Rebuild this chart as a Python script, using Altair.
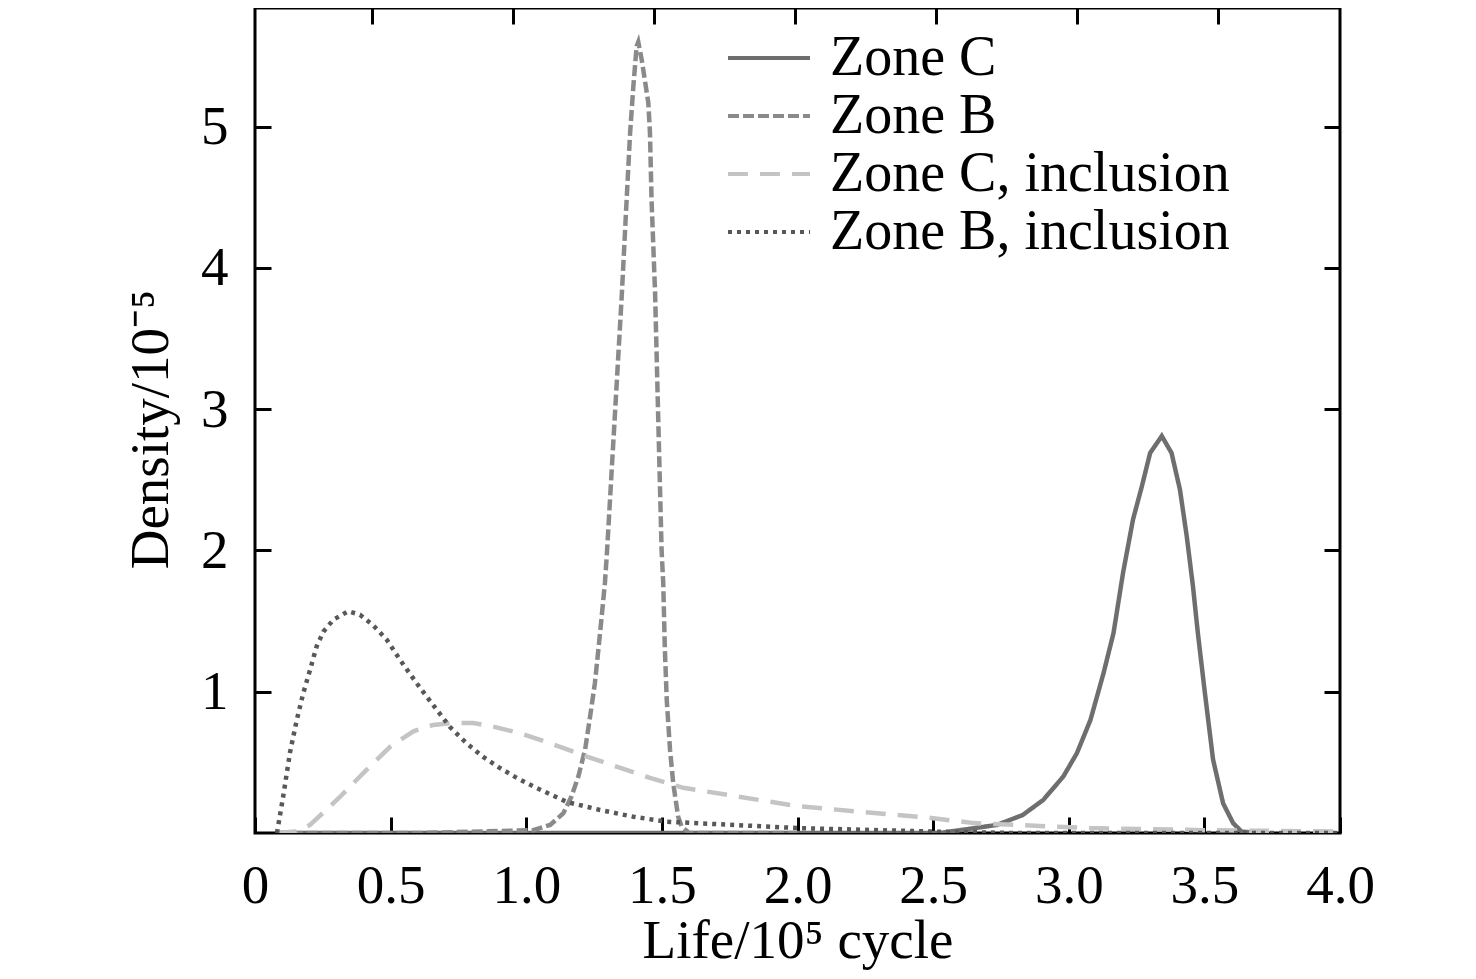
import altair as alt
import pandas as pd

# ---------------- data ----------------
series_names = ["Zone C", "Zone B", "Zone C, inclusion", "Zone B, inclusion"]

zone_c_x = [0.08, 1.0, 2.0, 2.525, 2.735, 2.83, 2.906, 2.98, 3.03, 3.08, 3.128, 3.165,
            3.2, 3.237, 3.269, 3.3, 3.343, 3.379, 3.41, 3.435, 3.458, 3.476, 3.502,
            3.532, 3.569, 3.606, 3.637, 3.7]
zone_c_y = [0.0, 0.0, 0.0, 0.0, 0.057, 0.127, 0.234, 0.40, 0.565, 0.80, 1.13, 1.415,
            1.84, 2.22, 2.45, 2.69, 2.81, 2.69, 2.43, 2.10, 1.745, 1.415, 0.99,
            0.52, 0.21, 0.07, 0.01, 0.0]

zone_b_x = [0.08, 0.6, 1.026, 1.088, 1.137, 1.167, 1.192, 1.217, 1.235, 1.253, 1.266,
            1.278, 1.29, 1.298, 1.325, 1.352, 1.37, 1.383, 1.395, 1.407, 1.413,
            1.426, 1.45, 1.456, 1.462, 1.475, 1.487, 1.499, 1.505, 1.511, 1.518,
            1.53, 1.542, 1.56, 1.573, 1.6, 2.0]
zone_b_y = [0.0, 0.0, 0.02, 0.057, 0.14, 0.26, 0.40, 0.59, 0.82, 1.06, 1.30,
            1.53, 1.77, 2.0, 2.9, 3.80, 4.48, 4.96, 5.29, 5.57, 5.60,
            5.47, 5.17, 4.96, 4.48, 3.82, 2.9, 2.0, 1.77, 1.30, 0.94,
            0.59, 0.35, 0.115, 0.045, 0.0, 0.0]

zone_c_inc_x = [0.08, 0.15, 0.203, 0.313, 0.41, 0.498, 0.584, 0.657, 0.731, 0.805, 0.878,
                0.977, 1.088, 1.21, 1.333, 1.456, 1.579, 2.0, 2.5, 2.65, 3.08, 3.5, 4.0]
zone_c_inc_y = [0.0, 0.01, 0.057, 0.255, 0.445, 0.61, 0.72, 0.765, 0.78, 0.778, 0.753,
                0.707, 0.635, 0.55, 0.47, 0.39, 0.32, 0.19, 0.105, 0.07, 0.035, 0.02, 0.01]

zone_b_inc_x = [0.081, 0.104, 0.129, 0.154, 0.178, 0.203, 0.227, 0.252, 0.289, 0.344,
                0.387, 0.436, 0.485, 0.535, 0.596, 0.657, 0.719, 0.78, 0.84, 0.903,
                0.965, 1.026, 1.149, 1.272, 1.395, 1.518, 2.0, 2.5, 2.8, 4.0]
zone_b_inc_y = [0.0, 0.26, 0.57, 0.80, 0.99, 1.155, 1.32, 1.425, 1.51, 1.57,
                1.545, 1.47, 1.37, 1.225, 1.06, 0.905, 0.75, 0.635, 0.54, 0.46,
                0.39, 0.33, 0.22, 0.163, 0.115, 0.08, 0.035, 0.01, 0.0, 0.0]

x_ticks = [0, 0.5, 1.0, 1.5, 2.0, 2.5, 3.0, 3.5, 4.0]
x_top_ticks = [0.431, 0.951, 1.471, 1.991, 2.510, 3.030, 3.550]
y_ticks = [1, 2, 3, 4, 5]

series_colors = ["#6e6e6e", "#8a8a8a", "#c4c4c4", "#585858"]
series_dashes = [[1, 0], [11, 4], [20, 12], [4, 5]]

frames = []
for name, xs, ys in [("Zone C", zone_c_x, zone_c_y),
                     ("Zone B", zone_b_x, zone_b_y),
                     ("Zone C, inclusion", zone_c_inc_x, zone_c_inc_y),
                     ("Zone B, inclusion", zone_b_inc_x, zone_b_inc_y)]:
    frames.append(pd.DataFrame({"series": name, "life": xs, "density": ys}))
df = pd.concat(frames, ignore_index=True)

# ---------------- chart ----------------
W, H = 1085, 825
FONT = "Liberation Serif"
FS = 55

xscale = alt.Scale(domain=[0, 4], nice=False, zero=False)
yscale = alt.Scale(domain=[0, 5.84], nice=False, zero=False)

legend = alt.Legend(
    orient="none", legendX=486, legendY=22, title=None,
    symbolType="M-2,0L2,0", symbolSize=1681, symbolStrokeWidth=4,
    labelFont=FONT, labelFontSize=56, labelColor="black", labelOffset=33,
    rowPadding=2, padding=0, labelLimit=0,
)

lines = alt.Chart(df).mark_line(strokeWidth=4.5, clip=True).encode(
    x=alt.X("life:Q", scale=xscale, axis=alt.Axis(
        orient="bottom", values=x_ticks, ticks=False, tickSize=0, domain=False, grid=False,
        labelExpr="datum.value == 0 ? '0' : format(datum.value, '.1f')",
        labelFont=FONT, labelFontSize=FS, labelColor="black", labelPadding=26,
        labelFlush=False, labelOverlap=False,
        title="Life/10\u2075 cycle", titleFont=FONT, titleFontSize=FS, titleFontWeight="normal",
        titleColor="black", titleBaseline="alphabetic", titleY=124)),
    y=alt.Y("density:Q", scale=yscale, axis=alt.Axis(
        orient="left", values=y_ticks, ticks=False, tickSize=0, domain=False, grid=False,
        format="d", labelFont=FONT, labelFontSize=FS, labelColor="black", labelPadding=27,
        labelFlush=False, labelOverlap=False,
        title="Density/10\u207b\u2075", titleFont=FONT, titleFontSize=FS, titleFontWeight="normal",
        titleColor="black", titleBaseline="alphabetic", titleAngle=270, titleX=-88, titleY=421)),
    color=alt.Color("series:N", scale=alt.Scale(domain=series_names, range=series_colors), legend=legend),
    strokeDash=alt.StrokeDash("series:N", scale=alt.Scale(domain=series_names, range=series_dashes), legend=legend),
)

tick_style = dict(labels=False, domain=False, grid=False, title=None, ticks=True,
                  tickSize=16, tickWidth=3, tickColor="black")

ticks_a = alt.Chart(df).mark_point(opacity=0).encode(
    x=alt.X("life:Q", scale=xscale, axis=alt.Axis(orient="top", offset=-H, values=x_ticks, **tick_style)),
    y=alt.Y("density:Q", scale=yscale, axis=alt.Axis(orient="right", offset=-W, values=y_ticks, **tick_style)),
)
ticks_b = alt.Chart(df).mark_point(opacity=0).encode(
    x=alt.X("life:Q", scale=xscale, axis=alt.Axis(orient="bottom", offset=-H, values=x_top_ticks, **tick_style)),
    y=alt.Y("density:Q", scale=yscale, axis=alt.Axis(orient="left", offset=-W, values=y_ticks, **tick_style)),
)

chart = alt.layer(lines, ticks_a, ticks_b).resolve_axis(
    x="independent", y="independent"
).properties(
    width=W, height=H,
    autosize=alt.AutoSizeParams(type="none"),
    padding={"left": 247, "top": 0, "right": 128, "bottom": 138},
    background="white",
).configure_view(stroke="black", strokeWidth=3)

chart.save("out.html", embed_options={"renderer": "svg", "actions": False})
